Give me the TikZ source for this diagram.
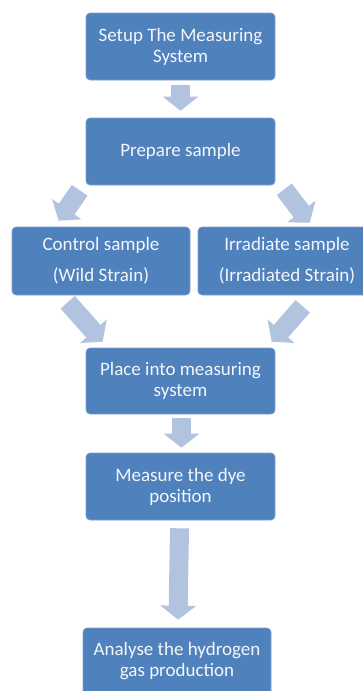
\documentclass[tikz,border=0pt]{standalone}
\usepackage{fontspec}
\setmainfont{Carlito}
\usetikzlibrary{arrows.meta,calc}
\definecolor{boxblue}{HTML}{4F81BD}
\definecolor{arrowblue}{HTML}{B1C3DE}
\definecolor{txt}{HTML}{F4F6FA}
\begin{document}
\begin{tikzpicture}[x=1pt,y=-1pt,
  stepbox/.style={rectangle, rounded corners=4pt, fill=boxblue, draw=boxblue!75!white,
    line width=0.6pt, text=txt, align=center, inner sep=0pt,
    font=\fontsize{19}{21}\selectfont},
  blockarrow/.style={draw=arrowblue, line width=19pt,
    -{Triangle[width=35pt,length=14pt]}}]
\useasboundingbox (0,0) rectangle (363,691);
\clip (0,0) rectangle (363,691);

\node[stepbox, minimum width=189pt, minimum height=67pt] (b1) at (180.5,46.5) {Setup The Measuring\\System};
\node[stepbox, minimum width=189pt, minimum height=67pt] (b2) at (180.5,151.5) {Prepare sample};
\node[stepbox, minimum width=178pt, minimum height=68pt] (b3) at (101,261) {Control sample\\[10pt](Wild Strain)};
\node[stepbox, minimum width=178pt, minimum height=68pt] (b4) at (287,261) {Irradiate sample\\[10pt](Irradiated Strain)};
\node[stepbox, minimum width=189pt, minimum height=66pt] (b5) at (180.5,381) {Place into measuring\\system};
\node[stepbox, minimum width=189pt, minimum height=67pt] (b6) at (180.5,486.5) {Measure the dye\\position};
\node[stepbox, minimum width=188pt, minimum height=67pt] (b7) at (177,661.5) {Analyse the hydrogen\\gas production};

\coordinate (a1s) at ($(b1.south)+(0,5)$);
\coordinate (a1e) at ($(b2.north)+(0,-7)$);
\coordinate (a2s) at ($(b2.south west)+(-6,5)$);
\coordinate (a2e) at ($(b3.north west)+(47,-6)$);
\coordinate (a3s) at ($(b2.south east)+(9,4)$);
\coordinate (a3e) at ($(b4.north west)+(112,-4)$);
\coordinate (a4s) at ($(b3.south west)+(56,7)$);
\coordinate (a4e) at ($(b5.north west)+(17,-6)$);
\coordinate (a5s) at ($(b4.south west)+(105,11)$);
\coordinate (a5e) at ($(b5.north west)+(186,-6)$);
\coordinate (a6s) at ($(b5.south)+(1,4)$);
\coordinate (a6e) at ($(b6.north)+(1,-5)$);
\coordinate (a7s) at ($(b6.south)+(-1,8)$);
\coordinate (a7e) at ($(b7.north)+(1,-8)$);

\draw[blockarrow] (a1s) -- (a1e);
\draw[blockarrow] (a2s) -- (a2e);
\draw[blockarrow] (a3s) -- (a3e);
\draw[blockarrow] (a4s) -- (a4e);
\draw[blockarrow] (a5s) -- (a5e);
\draw[blockarrow] (a6s) -- (a6e);
\draw[blockarrow] (a7s) -- (a7e);
\end{tikzpicture}
\end{document}
